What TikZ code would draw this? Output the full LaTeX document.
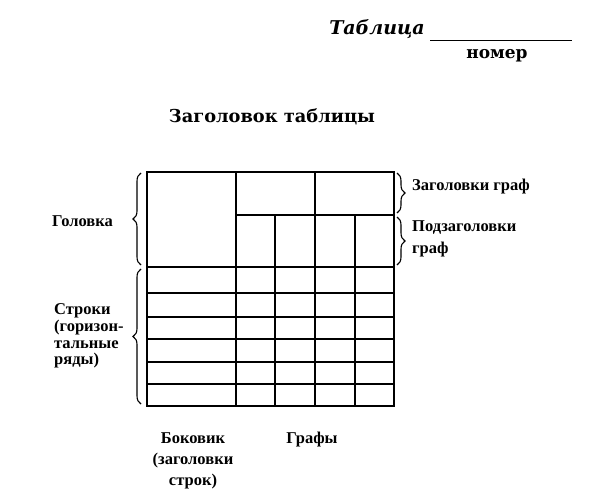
\documentclass[tikz,border=0pt]{standalone}
\usepackage{fontspec}
\setmainfont{Liberation Serif}
\newfontfamily\headfont{DejaVu Serif}
\usetikzlibrary{decorations.pathreplacing}
\tikzset{
  grid/.style={line width=1.2pt},
  lbl/.style={font=\fontsize{16.5}{17}\selectfont\bfseries, inner sep=0pt},
  brc/.style={decorate, decoration={brace, amplitude=8pt}, line width=1.1pt}
}
\begin{document}
\begin{tikzpicture}[x=1pt, y=-1pt]
\useasboundingbox (0,0) rectangle (605,500);
% title block
\node[inner sep=0pt, font=\headfont\fontsize{19}{22}\selectfont\bfseries\itshape] (tnum) at (377,29){Таблица};
\coordinate (ul0) at (430,40);
\coordinate (ul1) at (572,40);
\draw[line width=0.8pt] (ul0) -- (ul1);
\node[inner sep=0pt, font=\headfont\fontsize{17}{20}\selectfont\bfseries] (tnumlbl) at (497,56){номер};
\node[inner sep=0pt, font=\headfont\fontsize{17.8}{21}\selectfont\bfseries] (ttitle) at (272,117){Заголовок таблицы};
% table
\coordinate (tl) at (147,172);
\coordinate (tr) at (394,172);
\coordinate (hl) at (147,267);
\coordinate (hr) at (394,267);
\coordinate (sr) at (394,215);
\coordinate (bl) at (147,406);
\coordinate (br) at (394,406);
\draw[grid] (tl) rectangle (br);
\draw[grid] (236,172) -- (236,406);
\draw[grid] (315,172) -- (315,406);
\draw[grid] (275,215) -- (275,406);
\draw[grid] (355,215) -- (355,406);
\draw[grid] (236,215) -- (sr);
\draw[grid] (hl) -- (hr);
\foreach \y in {293,317,339,362,384}
  \draw[grid] (147,\y) -- (394,\y);
% braces
\draw[brc] (141,265) -- (141,173);
\draw[brc] (141,404) -- (141,269);
\draw[brc] (397,173) -- (397,213);
\draw[brc] (397,217) -- (397,265);
% labels
\node[lbl, anchor=west] (hd) at (52,221){Головка};
\node[lbl, anchor=west, align=left, font=\fontsize{16.5}{16.7}\selectfont\bfseries] (rows) at (54,336){Строки\\(горизон-\\тальные\\ряды)};
\node[lbl, anchor=west] (colhd) at (412,187){Заголовки граф};
\node[lbl, anchor=west, align=left, font=\fontsize{16.5}{22}\selectfont\bfseries] (subhd) at (412,239){Подзаголовки\\граф};
\node[lbl, align=center, font=\fontsize{16.5}{21}\selectfont\bfseries] (stub) at (193,461){Боковик\\(заголовки\\строк)};
\node[lbl] (cols) at (312,440){Графы};
\end{tikzpicture}
\end{document}
